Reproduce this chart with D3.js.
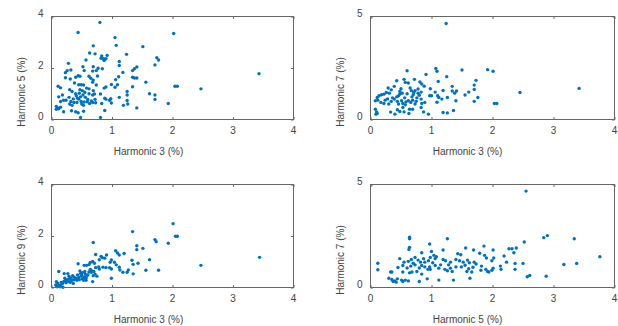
<!DOCTYPE html>
<html>
<head>
<meta charset="utf-8">
<script src="https://cdn.jsdelivr.net/npm/d3@7"></script>
<style>
body{margin:0;background:#fff;}
svg{display:block;font-family:'Liberation Sans',Arial,sans-serif;}
</style>
</head>
<body>
<div class="chart"></div>
<script>
// [x, y] pairs (values in %)
var h5VsH3 = [[0.80,3.77],[0.44,3.38],[2.02,3.34],[1.05,3.18],[1.07,2.88],[0.69,2.86],[1.51,2.83],[0.63,2.58],[0.72,2.55],[1.24,2.53],
[0.83,2.47],[0.92,2.49],[0.90,2.36],[0.82,2.38],[0.87,2.29],[0.86,2.36],[0.57,2.31],[1.74,2.40],[1.77,2.31],[1.71,2.12],
[0.28,2.18],[1.12,2.25],[1.12,2.10],[0.52,2.05],[0.69,2.05],[0.77,1.99],[0.84,1.97],[1.41,2.04],[1.37,1.97],[1.34,1.90],
[0.26,1.90],[0.23,1.82],[0.32,1.92],[0.54,1.90],[0.68,1.88],[0.74,1.90],[1.18,1.83],[0.44,1.70],[0.47,1.68],[0.40,1.64],
[0.23,1.62],[0.31,1.57],[0.62,1.68],[0.65,1.60],[0.69,1.53],[0.76,1.69],[1.11,1.66],[1.06,1.55],[1.34,1.64],[1.37,1.61],
[1.41,1.61],[1.56,1.45],[0.99,1.36],[0.38,1.42],[0.45,1.35],[0.49,1.35],[0.53,1.34],[0.68,1.45],[0.74,1.34],[0.90,1.26],
[1.09,1.35],[1.05,1.25],[0.87,1.22],[1.34,1.27],[0.11,1.29],[0.15,1.23],[0.30,1.16],[0.34,1.09],[0.47,1.16],[0.51,1.12],
[0.62,1.19],[0.69,1.12],[0.55,1.06],[2.04,1.29],[2.08,1.29],[2.47,1.19],[3.43,1.78],[1.25,1.09],[1.25,0.95],[1.25,0.74],
[1.62,1.00],[1.71,0.95],[1.71,0.78],[0.81,0.99],[0.88,0.83],[0.90,0.79],[0.98,0.81],[0.96,0.75],[1.12,0.86],[0.18,0.95],
[0.12,0.88],[0.20,0.75],[0.15,0.70],[0.29,0.86],[0.24,0.75],[0.32,0.70],[0.30,0.60],[0.34,0.55],[0.37,0.66],[0.41,0.92],
[0.43,0.83],[0.45,0.79],[0.49,0.70],[0.42,0.66],[0.50,0.60],[0.53,0.55],[0.54,0.68],[0.59,0.69],[0.63,0.62],[0.68,0.66],
[0.73,0.65],[0.68,0.95],[0.71,0.99],[0.83,0.62],[0.99,0.64],[1.19,0.55],[1.26,0.60],[1.41,0.45],[1.93,0.62],[0.08,0.51],
[0.10,0.45],[0.12,0.42],[0.08,0.40],[0.15,0.48],[0.20,0.30],[0.33,0.34],[0.40,0.30],[0.44,0.26],[0.53,0.32],[0.88,0.35],
[0.48,0.08],[0.81,0.08],[0.36,0.80],[0.46,1.02],[0.56,0.86],[0.60,0.78],[0.52,0.95],[0.66,0.72],[0.40,1.00],[0.58,1.22],
[0.72,0.78],[0.48,0.88],[0.62,1.00]];

var h7VsH3 = [[1.24,4.66],[0.60,2.37],[1.07,2.48],[1.09,2.34],[1.50,2.40],[1.92,2.42],[2.01,2.34],[0.91,2.19],[1.25,2.08],[0.43,1.88],
[0.55,1.95],[0.57,1.80],[0.62,1.77],[0.72,1.95],[0.81,1.82],[0.84,1.72],[0.88,1.62],[1.11,1.85],[1.73,1.90],[1.70,1.67],
[1.70,1.46],[0.39,1.61],[0.29,1.53],[0.34,1.44],[0.50,1.49],[0.48,1.36],[0.48,1.23],[0.65,1.53],[0.67,1.40],[0.71,1.31],
[0.73,1.40],[0.70,1.20],[0.78,1.48],[0.78,1.28],[0.83,1.33],[0.98,1.49],[1.06,1.33],[1.00,1.15],[1.19,1.41],[1.34,1.61],
[1.34,1.38],[1.41,1.38],[1.38,1.28],[1.61,1.33],[1.55,1.19],[0.18,1.20],[0.14,1.15],[0.11,1.07],[0.22,1.23],[0.26,1.31],
[0.31,1.28],[0.08,0.91],[0.12,0.94],[0.17,0.83],[0.22,0.78],[0.24,0.94],[0.30,0.75],[0.34,0.88],[0.39,0.99],[0.43,1.10],
[0.44,0.88],[0.46,0.75],[0.51,0.91],[0.53,0.78],[0.57,0.71],[0.53,0.58],[0.62,0.91],[0.66,0.83],[0.69,0.94],[0.75,0.88],
[0.73,0.75],[0.83,0.99],[0.84,0.78],[0.89,0.83],[0.97,1.15],[1.10,1.15],[1.12,1.07],[1.09,0.84],[1.17,0.99],[1.26,1.07],
[1.40,0.91],[1.70,0.88],[1.76,1.07],[2.45,1.31],[3.42,1.51],[2.03,0.78],[2.07,0.78],[0.08,0.50],[0.10,0.37],[0.09,0.26],
[0.11,0.29],[0.33,0.36],[0.40,0.26],[0.44,0.47],[0.48,0.39],[0.55,0.37],[0.63,0.29],[0.64,0.50],[0.69,0.50],[0.83,0.58],
[0.87,0.37],[0.95,0.26],[1.19,0.34],[1.26,0.32],[1.36,0.44],[0.36,1.05],[0.46,1.15],[0.56,1.05],[0.60,1.25],[0.68,1.10],
[0.76,1.05],[0.80,1.18],[0.52,1.28],[0.58,0.85],[0.28,1.00]];

var h9VsH3 = [[2.01,2.48],[1.34,2.17],[2.05,1.99],[2.08,1.99],[1.71,1.86],[1.73,1.78],[1.93,1.72],[0.69,1.75],[1.41,1.62],[1.41,1.47],
[1.51,1.52],[1.06,1.43],[1.09,1.34],[1.12,1.26],[1.20,1.32],[0.73,1.28],[0.82,1.21],[0.84,1.16],[0.91,1.26],[0.64,0.97],
[0.68,1.01],[0.71,0.94],[0.79,1.08],[0.88,1.14],[0.97,0.98],[0.99,1.07],[1.04,0.98],[1.07,0.88],[1.33,1.06],[1.35,0.90],
[1.43,0.94],[1.62,1.08],[0.44,0.92],[0.54,0.86],[0.58,0.86],[0.62,0.89],[0.73,0.77],[0.79,0.72],[0.85,0.79],[0.90,0.77],
[0.96,0.77],[0.99,0.72],[1.12,0.79],[1.13,0.68],[1.18,0.59],[1.25,0.59],[1.27,0.68],[1.35,0.53],[1.56,0.67],[1.77,0.67],
[2.47,0.86],[3.44,1.17],[0.12,0.62],[0.21,0.54],[0.27,0.54],[0.47,0.64],[0.51,0.57],[0.55,0.62],[0.60,0.49],[0.64,0.70],
[0.66,0.59],[0.69,0.46],[0.72,0.52],[0.75,0.44],[0.99,0.36],[0.08,0.23],[0.10,0.17],[0.12,0.10],[0.15,0.08],[0.18,0.15],
[0.20,0.23],[0.23,0.28],[0.22,0.36],[0.27,0.23],[0.29,0.34],[0.32,0.36],[0.34,0.28],[0.37,0.41],[0.40,0.36],[0.42,0.28],
[0.45,0.39],[0.49,0.44],[0.51,0.34],[0.53,0.28],[0.57,0.36],[0.58,0.44],[0.07,0.10],[0.09,0.03],[0.14,0.03],[0.19,0.01],
[0.24,0.18],[0.30,0.23],[0.29,0.44],[0.35,0.46],[0.43,0.49],[0.48,0.54],[0.54,0.41],[0.57,0.28],[0.68,0.23],[0.26,0.30],
[0.31,0.20],[0.38,0.30],[0.44,0.34],[0.50,0.48],[0.56,0.52],[0.62,0.60],[0.66,0.66],[0.70,0.62],[0.78,0.80],[0.16,0.20],
[0.36,0.16],[0.46,0.30]];

var h7VsH5 = [[2.55,4.68],[2.90,2.52],[2.84,2.42],[3.34,2.37],[0.64,2.44],[0.64,2.37],[1.26,2.37],[2.52,2.21],[0.97,2.11],[0.64,1.95],
[0.63,1.85],[1.86,2.01],[1.56,1.92],[1.19,1.82],[1.69,1.82],[2.01,1.82],[2.27,1.88],[2.32,1.88],[2.39,1.92],[2.35,1.69],
[0.84,1.69],[1.00,1.75],[1.04,1.56],[1.08,1.49],[1.43,1.64],[1.48,1.59],[1.79,1.66],[1.87,1.56],[1.90,1.43],[2.19,1.53],
[2.02,1.43],[1.99,1.30],[3.76,1.49],[0.48,1.40],[0.55,1.23],[0.62,1.27],[0.67,1.36],[0.73,1.46],[0.78,1.33],[0.82,1.23],
[0.87,1.40],[0.89,1.23],[0.95,1.30],[0.98,1.46],[1.06,1.40],[1.19,1.36],[1.23,1.30],[1.31,1.23],[1.40,1.36],[1.46,1.30],
[1.52,1.23],[1.59,1.33],[1.62,1.20],[1.70,1.23],[1.73,1.14],[0.12,1.18],[0.12,0.86],[2.23,1.23],[2.37,1.17],[2.50,1.17],
[3.17,1.12],[3.38,1.17],[0.45,0.97],[0.53,1.07],[0.66,1.04],[0.73,1.10],[0.84,1.07],[0.89,1.00],[0.97,1.00],[1.06,1.07],
[1.12,0.94],[1.22,0.88],[1.31,0.94],[1.40,1.00],[1.49,1.00],[1.61,0.91],[1.82,1.04],[1.89,0.88],[2.01,0.94],[2.13,1.04],
[2.14,0.88],[2.37,0.88],[0.33,0.75],[0.35,0.75],[0.53,0.75],[0.64,0.71],[0.68,0.75],[0.76,0.78],[0.84,0.65],[0.94,0.88],
[0.98,0.88],[1.26,0.81],[1.34,0.78],[1.58,0.78],[1.66,0.75],[1.81,0.84],[1.92,0.78],[1.99,0.84],[0.30,0.45],[0.35,0.39],
[0.40,0.32],[0.44,0.42],[0.51,0.36],[0.62,0.32],[0.57,0.36],[0.80,0.29],[0.93,0.42],[1.12,0.36],[1.36,0.36],[1.63,0.45],
[1.94,0.75],[2.57,0.52],[2.61,0.58],[2.88,0.55],[0.37,0.29],[0.42,0.26],[0.53,0.29],[0.70,1.18],[0.80,0.95],[1.02,1.20],
[1.15,1.10],[1.28,1.10],[1.55,1.08],[1.68,0.98],[0.60,0.95]];

var xTicks = [0, 1, 2, 3, 4];
var yTicks4 = [0, 2, 4];
var yTicks5 = [0, 5];

var blue = '#0072BD';
var axiscolor = '#666';
var textcolor = '#444';

var svg = d3.select('.chart').append('svg').attr('width', 618).attr('height', 326);

var panels = [
  {data: h5VsH3, xlab: 'Harmonic 3 (%)', ylab: 'Harmonic 5 (%)', ymax: 4, yt: yTicks4, yminor: [2], left: 51.5, top: 16.5, w: 242, h: 103},
  {data: h7VsH3, xlab: 'Harmonic 3 (%)', ylab: 'Harmonic 7 (%)', ymax: 5, yt: yTicks5, yminor: [], left: 370.5, top: 16.5, w: 244, h: 103},
  {data: h9VsH3, xlab: 'Harmonic 3 (%)', ylab: 'Harmonic 9 (%)', ymax: 4, yt: yTicks4, yminor: [2], left: 51.5, top: 184.5, w: 242, h: 103},
  {data: h7VsH5, xlab: 'Harmonic 5 (%)', ylab: 'Harmonic 7 (%)', ymax: 5, yt: yTicks5, yminor: [], left: 370.5, top: 184.5, w: 244, h: 103}
];

panels.forEach(function(p){
  var g = svg.append('g').attr('transform', 'translate(' + p.left + ',' + p.top + ')');

  var x = d3.scaleLinear().domain([0, 4]).range([0, p.w]);
  var y = d3.scaleLinear().domain([0, p.ymax]).range([p.h, 0]);

  // points first, box on top like matlab
  g.append('g').selectAll('circle')
    .data(p.data).enter()
    .append('circle')
    .attr('cx', function(d){ return x(d[0]); })
    .attr('cy', function(d){ return y(d[1]); })
    .attr('r', 1.7)
    .attr('fill', blue);

  // inward ticks on all four sides
  g.append('g').call(d3.axisBottom(x).tickValues(xTicks).tickSize(-2.5).tickFormat(''))
    .attr('transform', 'translate(0,' + p.h + ')');
  g.append('g').call(d3.axisTop(x).tickValues(xTicks).tickSize(-2.5).tickFormat(''));
  g.append('g').call(d3.axisLeft(y).tickValues(p.yt.concat(p.yminor)).tickSize(-2.5).tickFormat(''));
  g.append('g').call(d3.axisRight(y).tickValues(p.yt.concat(p.yminor)).tickSize(-2.5).tickFormat(''))
    .attr('transform', 'translate(' + p.w + ',0)');
  g.selectAll('.domain').remove();
  g.selectAll('.tick line').attr('stroke', axiscolor);

  g.append('rect')
    .attr('width', p.w).attr('height', p.h)
    .attr('fill', 'none')
    .attr('stroke', axiscolor)
    .attr('stroke-width', 1);

  g.selectAll('.xlabel')
    .data(xTicks).enter()
    .append('text')
    .attr('x', function(d){ return x(d); })
    .attr('y', p.h + 14.5)
    .attr('text-anchor', 'middle')
    .style('font-size', '10px')
    .attr('fill', textcolor)
    .text(function(d){ return d; });

  g.selectAll('.ylabel')
    .data(p.yt).enter()
    .append('text')
    .attr('x', -8)
    .attr('y', function(d){ return y(d) + 0.5; })
    .attr('text-anchor', 'end')
    .style('font-size', '10px')
    .attr('fill', textcolor)
    .text(function(d){ return d; });

  g.append('text')
    .attr('x', 97)
    .attr('y', p.h + 35.5)
    .attr('text-anchor', 'middle')
    .style('font-size', '10px')
    .attr('fill', textcolor)
    .text(p.xlab);

  g.append('text')
    .attr('transform', 'translate(-26.5,' + 75.5 + ') rotate(-90)')
    .attr('text-anchor', 'middle')
    .style('font-size', '10px')
    .attr('fill', textcolor)
    .text(p.ylab);
});
</script>
</body>
</html>
